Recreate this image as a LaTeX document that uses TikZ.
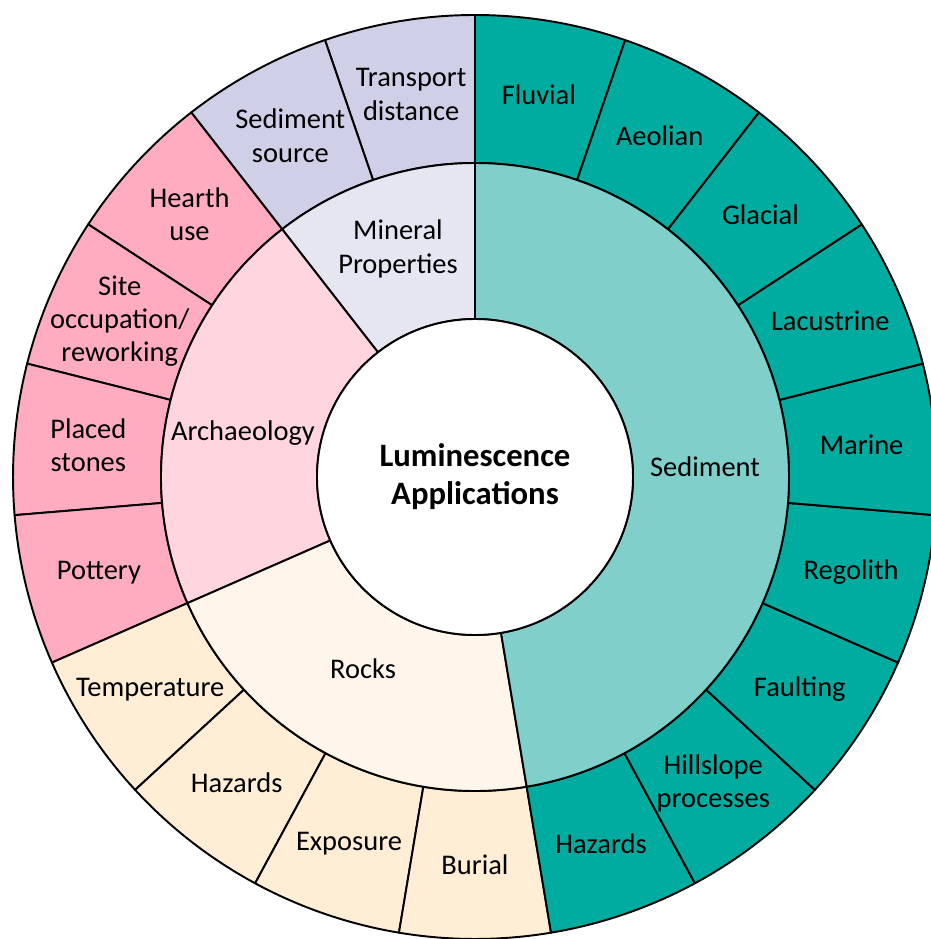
\documentclass[tikz,border=0pt]{standalone}
\usepackage{fontspec}
\setmainfont{Carlito}
\definecolor{sedouter}{HTML}{00AB9F}
\definecolor{sedmid}{HTML}{80CFCA}
\definecolor{minouter}{HTML}{CFCFE8}
\definecolor{minmid}{HTML}{E6E6F3}
\definecolor{arcouter}{HTML}{FFACC1}
\definecolor{arcmid}{HTML}{FFD6E0}
\definecolor{rockouter}{HTML}{FFEDD6}
\definecolor{rockmid}{HTML}{FFF5EA}
\begin{document}
\begin{tikzpicture}[%
            mywedge/.style={draw=black, line width=1.1pt, line join=round},
            mylabel/.style={align=center, font=\fontsize{16.2}{19}\selectfont},
            mycore/.style={circle, draw=black, line width=1.1pt, fill=white, minimum size=6.32cm, align=center, font=\fontsize{18.6}{21.6}\selectfont\bfseries}
    ]
        \useasboundingbox (-9.5,-9.24) rectangle (9.12,9.54);

        % outer ring
        \foreach \i/\txt/\col in {0/{Transport\\distance}/minouter, 1/{Sediment\\source}/minouter,
            2/{Hearth\\use}/arcouter, 3/{Site\\occupation/\\reworking}/arcouter,
            4/{Placed\\stones}/arcouter, 5/Pottery/arcouter,
            6/Temperature/rockouter, 7/Hazards/rockouter, 8/Exposure/rockouter, 9/Burial/rockouter,
            10/Hazards/sedouter, 11/{Hillslope\\processes}/sedouter, 12/Faulting/sedouter,
            13/Regolith/sedouter, 14/Marine/sedouter, 15/Lacustrine/sedouter,
            16/Glacial/sedouter, 17/Aeolian/sedouter, 18/Fluvial/sedouter}
        {
            \pgfmathsetmacro\aa{90+\i*360/19}
            \pgfmathsetmacro\ab{90+(\i+1)*360/19}
            \pgfmathsetmacro\am{90+(\i+0.5)*360/19}
            \filldraw [mywedge, fill=\col] (\aa:6.28) -- (\aa:9.24)
                arc [start angle=\aa, end angle=\ab, radius=9.24] -- (\ab:6.28)
                arc [start angle=\ab, end angle=\aa, radius=6.28] -- cycle;
            \path (\am:7.76) node [mylabel] (leaf\i) {\txt};
        }

        % middle ring
        \foreach \ia/\ib/\col in {0/2/minmid, 2/6/arcmid, 6/10/rockmid, 10/19/sedmid}
        {
            \pgfmathsetmacro\aa{90+\ia*360/19}
            \pgfmathsetmacro\ab{90+\ib*360/19}
            \filldraw [mywedge, fill=\col] (\aa:3.16) -- (\aa:6.28)
                arc [start angle=\aa, end angle=\ab, radius=6.28] -- (\ab:3.16)
                arc [start angle=\ab, end angle=\aa, radius=3.16] -- cycle;
        }
        \path (-1.54,4.56) node [mylabel] (mineral) {Mineral\\Properties};
        \path (-4.64,0.88) node [mylabel] (archaeology) {Archaeology};
        \path (-2.24,-3.84) node [mylabel] (rocks) {Rocks};
        \path (4.6,0.2) node [mylabel] (sediment) {Sediment};

        \path (0,0) node [mycore] (core) {Luminescence\\Applications};
    \end{tikzpicture}
\end{document}
